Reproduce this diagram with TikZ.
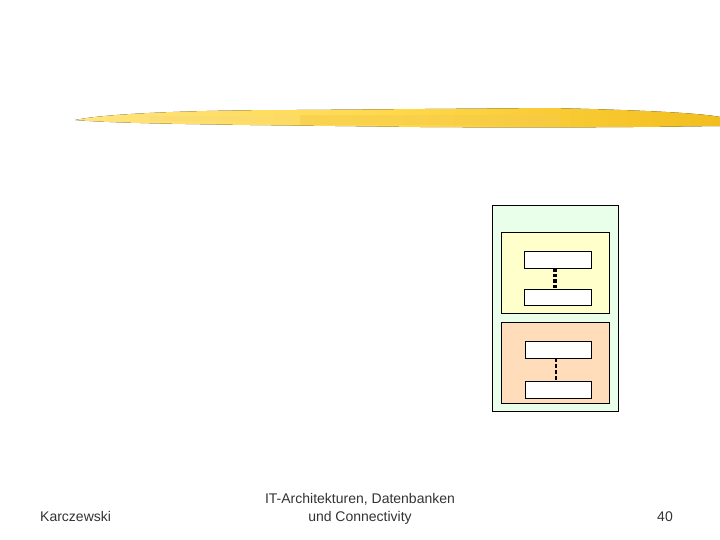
\documentclass[tikz,border=0pt]{standalone}
\usepackage{fontspec}
\setmainfont{Liberation Sans}
\definecolor{outerfill}{HTML}{EAFFEA}
\definecolor{yelfill}{HTML}{FFFFCC}
\definecolor{orafill}{HTML}{FFDDBB}
\definecolor{brushA}{HTML}{FFD84A}
\definecolor{brushB}{HTML}{F2BE1E}
\tikzset{
  x=1pt, y=-1pt,
  panel/.style={draw=black, line width=0.8pt, inner sep=0pt, outer sep=0pt},
  item/.style={draw=black, fill=white, line width=0.8pt, inner sep=0pt, outer sep=0pt},
  footer/.style={font=\fontsize{14}{18}\selectfont, text=black!80, inner sep=0pt, align=center},
}
\begin{document}
\begin{tikzpicture}
\useasboundingbox (0,0) rectangle (720,540);
% brush stroke
\fill[left color=brushA!70, right color=brushB, middle color=brushA]
  (75,120) .. controls (110,113) and (200,110) .. (300,110)
  -- (550,108) .. controls (640,110) and (700,113) .. (720,117)
  -- (720,126) .. controls (650,127) and (560,128) .. (420,127)
  -- (250,125) .. controls (180,124) and (110,123) .. (75,120) -- cycle;
\fill[brushB!80, opacity=0.5] (300,115) rectangle (560,125);
\fill[brushB!60, opacity=0.4] (150,116) rectangle (300,121);
% panels
\node[panel, fill=outerfill, minimum width=126, minimum height=206, anchor=north west] (outer) at (492,205) {};
\node[panel, fill=yelfill, minimum width=108, minimum height=81, anchor=north west] (yel) at (501,232) {};
\node[panel, fill=orafill, minimum width=108, minimum height=81, anchor=north west] (ora) at (501,322) {};
\node[item, minimum width=67, minimum height=17, anchor=north west] (y1) at (524,251) {};
\node[item, minimum width=67, minimum height=16, anchor=north west] (y2) at (524,289) {};
\node[item, minimum width=66, minimum height=17, anchor=north west] (o1) at (525,341) {};
\node[item, minimum width=66, minimum height=17, anchor=north west] (o2) at (525,381) {};
\draw[line width=3.5pt, dash pattern=on 3.5pt off 2pt] ([xshift=-2.5pt]y1.south) -- ([xshift=-2.5pt]y2.north);
\draw[line width=2.5pt, dash pattern=on 3.5pt off 2.5pt] ([xshift=-2pt]o1.south) -- ([xshift=-2pt]o2.north);
% footer
\node[footer, anchor=base west] (auth) at (40,521) {Karczewski};
\node[footer, anchor=base] (title) at (360,521) {IT-Architekturen, Datenbanken\\und Connectivity};
\node[footer, anchor=base east] (page) at (673,521) {40};
\end{tikzpicture}
\end{document}
